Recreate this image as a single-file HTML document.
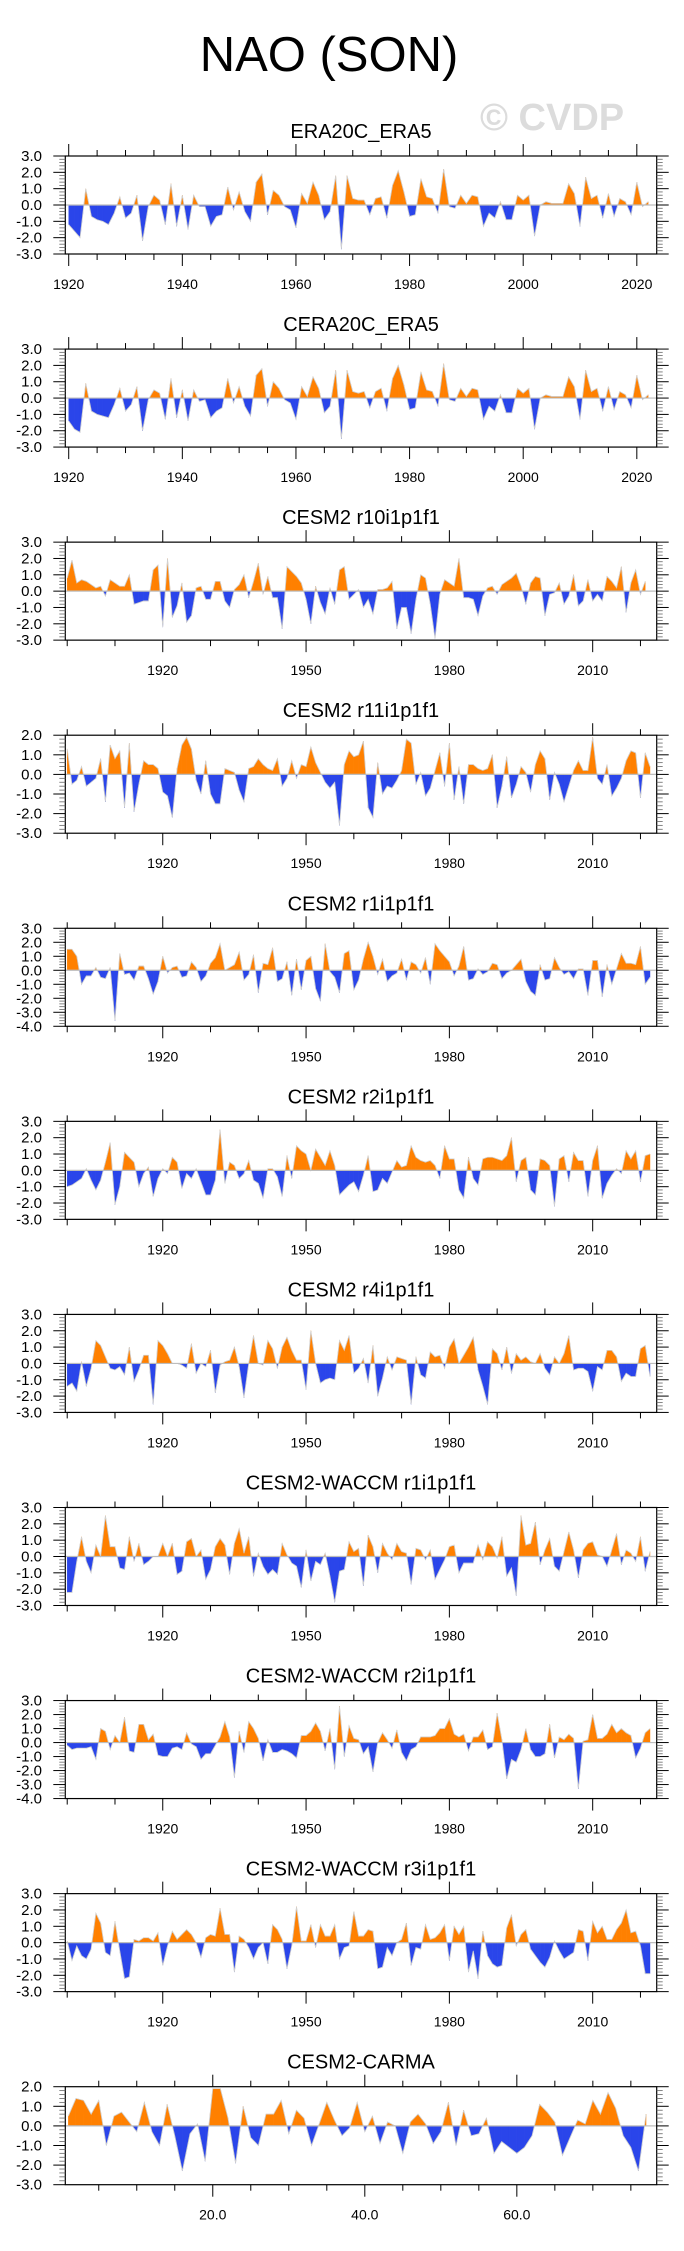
<!DOCTYPE html>
<html><head><meta charset="utf-8"><style>
html,body{margin:0;padding:0;background:#fff;}
svg{display:block;font-family:"Liberation Sans",sans-serif;}
</style></head><body>
<svg id="fig" width="684" height="2251" viewBox="0 0 684 2251" xmlns="http://www.w3.org/2000/svg">
<text x="329" y="71" font-size="49" text-anchor="middle" fill="#000">NAO (SON)</text>
<text x="480" y="130" font-size="38" font-weight="bold" fill="#dcdcdc">© CVDP</text>
</svg>
<script>
const titles = ["ERA20C_ERA5","CERA20C_ERA5","CESM2 r10i1p1f1","CESM2 r11i1p1f1","CESM2 r1i1p1f1","CESM2 r2i1p1f1","CESM2 r4i1p1f1","CESM2-WACCM r1i1p1f1","CESM2-WACCM r2i1p1f1","CESM2-WACCM r3i1p1f1","CESM2-CARMA"];
const yMins = [-3,-3,-3,-3,-4,-3,-3,-3,-4,-3,-3];
const yMaxs = [3,3,3,2,3,3,3,3,3,3,2];
const era1 = [-1.2,-1.6,-2.0,1.0,-0.7,-0.9,-1.0,-1.2,-0.5,0.5,-0.8,-0.5,0.6,-2.2,-0.1,0.6,0.3,-1.2,1.3,-1.3,0.6,-1.5,0.6,-0.1,-0.1,-1.3,-0.7,-0.6,1.1,-0.3,0.8,-0.4,-1.0,1.4,1.9,-0.6,0.9,0.6,-0.1,-0.3,-1.4,0.7,0.1,1.4,0.6,-0.9,-0.4,1.8,-2.7,1.8,0.4,0.3,0.3,-0.6,0.4,0.5,-0.8,1.2,2.1,0.8,-0.7,-0.6,1.6,0.5,0.4,-0.5,2.2,-0.1,-0.2,0.6,0.1,0.6,0.5,-1.3,-0.5,-0.8,0.2,-0.9,-0.9,0.6,0.3,0.6,-1.9,0,0.2,0.1,0.1,0.1,1.3,0.7,-1.3,1.7,0.4,0.6,-0.8,0.7,-0.7,0.4,0.2,-0.6,1.4,-0.1,0.2];
const era2 = [-1.4,-1.9,-2.1,0.9,-0.8,-1.0,-1.1,-1.2,-0.4,0.6,-0.8,-0.4,0.7,-2.0,-0.1,0.5,0.3,-1.3,1.2,-1.2,0.5,-1.4,0.5,-0.2,-0.1,-1.2,-0.8,-0.6,1.2,-0.3,0.7,-0.5,-1.1,1.4,1.8,-0.5,1.0,0.6,-0.1,-0.3,-1.3,0.7,0.1,1.3,0.6,-0.9,-0.5,1.7,-2.5,1.7,0.4,0.3,0.4,-0.6,0.4,0.6,-0.8,1.2,2.0,0.8,-0.7,-0.6,1.6,0.5,0.4,-0.5,2.1,-0.1,-0.2,0.6,0.1,0.6,0.5,-1.3,-0.5,-0.8,0.2,-0.9,-0.9,0.6,0.3,0.6,-1.9,0,0.2,0.1,0.1,0.1,1.3,0.7,-1.3,1.7,0.4,0.6,-0.8,0.7,-0.7,0.4,0.2,-0.6,1.4,-0.1,0.2];
const r10 = [0.8,1.9,0.5,0.7,0.6,0.4,0.2,0.3,-0.3,0.7,0.5,0.3,0.3,1.0,-0.8,-0.7,-0.6,-0.6,1.3,1.6,-2.2,2.0,-1.6,-0.9,0.5,-1.9,-1.5,0.2,0.3,-0.5,-0.5,0.6,0.6,-0.6,-1.0,0.1,0.4,1.0,-0.4,0.6,1.7,-0.2,0.9,-0.4,-0.4,-2.3,1.5,1.2,0.9,0.5,-0.5,-2.0,0.3,-0.7,-1.4,0.2,-0.8,1.3,1.5,-0.5,-0.2,0.1,-1.0,-0.5,-1.4,0.1,0.1,0.2,0.6,-2.3,-1.0,-1.0,-2.6,-0.5,1.0,0.8,-0.8,-2.9,-0.2,0.7,0.5,0.3,2.0,-0.4,-0.4,-0.5,-1.5,-0.3,0.2,0.3,-0.2,0.4,0.6,0.8,1.1,0.3,-0.8,0.5,0.9,0.8,-1.5,-0.2,-0.1,0.5,-0.8,-0.3,1.0,-0.9,-0.6,0.7,-0.6,-0.2,-0.6,0.9,0.6,0.2,1.5,-1.3,0.5,1.3,-0.2,0.6];
const r11 = [1.3,-0.5,-0.3,0.4,-0.6,-0.4,-0.2,0.8,-1.4,1.5,0.8,1.2,-1.7,1.6,-1.9,-0.5,0.7,0.5,0.5,0.3,-0.9,-1.1,-2.2,0.3,1.5,1.9,1.3,-0.3,-1.0,0.7,-1.0,-1.5,-1.5,0.3,0.2,0.1,-0.8,-1.4,0.3,0.4,0.8,0.5,0.3,0.2,0.8,-0.6,-0.2,0.7,-0.2,0.5,0.4,1.4,0.6,0.1,-0.4,-0.7,-0.4,-2.6,0.5,1.2,0.9,1.0,1.7,-1.7,-2.2,0.6,-1.0,-0.6,-0.7,-0.3,0.2,1.8,1.6,-0.5,0.1,-1.1,-0.7,0.2,1.1,-0.6,1.6,-1.3,0.4,-1.5,0.5,0.5,0.3,0.2,0.3,1.0,-1.7,-0.6,0.9,-1.2,-0.5,0.4,0.1,-0.9,0.5,1.2,0.8,-1.3,0.1,-0.5,-1.4,-0.6,0.2,0.7,0.2,0.2,1.9,-0.2,-0.5,0.5,-1.1,-0.7,-0.2,0.7,1.2,1.1,-1.2,1.1,0.4];
const r1 = [1.5,1.5,1.0,-1.0,-0.4,-0.4,0.2,-0.5,-0.6,0.2,-3.6,1.2,-0.3,-0.2,-0.7,0.3,0.3,-0.6,-1.7,-0.8,1.0,-0.2,0.2,0.3,-0.5,-0.4,0.6,0.2,-0.8,-0.4,0.5,0.9,1.9,0,0.2,0.4,1.3,-0.7,-0.3,1.1,-1.6,0.5,0.4,1.6,-0.8,-0.6,0.6,-1.8,0.8,-1.4,0.7,1.0,-1.3,-2.2,1.9,-0.1,-0.5,-1.6,1.2,1.4,-1.4,-0.7,0.8,2.0,1.0,-0.3,0.8,-0.8,-0.4,-0.2,0.8,-0.7,0.6,0.4,-0.2,0.9,-1.0,1.9,1.4,1.0,0.6,-0.4,0.3,1.7,-0.7,-0.6,0.1,-0.3,-0.1,0.5,0.4,-0.6,-0.2,0,0.4,0.8,-0.8,-1.5,-1.8,0.4,-0.7,-0.6,0.9,0.2,-0.3,-0.1,-0.6,0.1,0.1,-1.8,0.7,0.7,-1.9,0.4,-1.0,0.1,1.2,0.5,0.5,0.4,1.7,-1.0,-0.5];
const r2 = [-1.0,-0.9,-0.7,-0.5,0.1,-0.6,-1.2,-0.6,0.5,1.7,-2.1,-1.0,1.1,0.8,0.5,-1.0,-0.2,0.2,-1.6,-0.5,0.1,-0.2,0.8,0.5,-1.1,-0.2,-0.5,0.1,-0.7,-1.5,-1.5,-0.6,2.5,-0.8,0.5,0.3,-0.5,-0.2,0.6,-0.6,-0.8,-1.7,0.1,0.1,-0.4,-1.6,0.9,-0.5,1.5,1.2,1.0,0,1.3,0.8,0.3,1.2,0.3,-1.5,-1.2,-0.9,-0.7,-1.3,-0.3,0.9,-1.3,-1.2,-0.5,-0.8,-0.1,0.6,0.2,0.3,1.5,0.8,0.6,0.5,0.6,0.3,-0.5,1.5,0.7,0.7,-1.2,-1.7,0.8,-0.5,-0.9,0.7,0.8,0.8,0.7,0.6,0.9,2.0,-0.7,0.6,0.8,-1.2,-1.5,0.7,0.6,0.3,-2.2,0.7,0.9,-0.7,1.1,0.6,0.6,-1.6,0.6,1.5,-1.7,-0.8,-0.3,0.1,-0.2,1.2,0.7,1.2,-0.7,0.9,1.0];
const r4 = [-1.4,-1.2,-1.7,0.1,-1.4,-0.3,1.4,1.1,0.4,-0.3,-0.4,-0.2,-0.7,1.0,-1.1,-0.4,0.5,0.5,-2.5,1.4,1.1,0.6,0,0,-0.1,-0.3,1.2,-0.6,0,-0.2,0.8,-1.8,-0.1,0.1,0.2,1.0,-0.2,-2.1,0,1.7,0,-0.1,1.4,0.9,-0.3,1.0,1.6,0.8,0.2,0.2,-1.6,2.0,0,-1.2,-1.0,-0.9,-1.0,1.4,0.8,1.7,-0.6,-0.3,0.3,-1.2,1.1,-2.0,-0.9,0.4,-0.4,0.4,0.3,0.2,-2.5,0.4,-0.7,-0.9,0.7,0.4,0.5,-0.3,1.0,1.5,0,0.5,1.0,1.6,-0.4,-1.4,-2.5,0.9,0.6,-0.4,1.0,-0.6,0.6,0.2,0.4,0.1,0,0.6,-0.3,-0.7,0.4,0,0.6,1.7,-0.4,-0.3,-0.3,-0.5,-1.7,-0.2,-0.4,0.8,0.8,0.4,-1.1,-0.6,-0.8,-0.8,0.9,1.1,-0.8];
const w1 = [-2.2,-2.2,-0.3,1.2,-0.3,-1.0,0.7,0,2.5,0.6,0.6,-0.7,-0.8,1.2,-0.3,0.8,-0.5,-0.3,0,0,0.8,0,0.8,-1.1,-0.9,0.9,1.1,0,0.4,-1.4,-0.8,0.6,1.1,0.7,-1.1,0.8,1.7,0.2,1.2,-1.2,0.2,-0.6,-1.1,-0.8,-1.1,0.8,0.1,-0.4,-0.6,-1.9,0.4,-1.5,-0.3,-0.5,0.2,-1.2,-2.8,-0.9,-0.8,0.9,0.3,0.5,-1.8,1.3,0.6,-1.0,0.8,0.2,-0.2,0.8,0.3,0.2,-1.7,0.5,0.4,-0.2,0.4,-1.4,-0.8,-0.2,0.6,0.7,-1.0,-0.4,-0.4,-0.4,0.7,-0.2,0.9,0.6,-0.1,1.2,-1.2,-0.7,-2.4,2.5,0.7,0.8,2.1,-0.5,0.4,1.1,-0.6,-0.9,0.3,1.5,0.4,-1.3,0.4,0.8,0.9,0.1,0,-0.6,0.4,1.4,-0.5,0.4,0.2,-0.3,1.2,-0.9,0.3];
const w2 = [-0.2,-0.5,-0.4,-0.4,-0.4,-0.3,-1.2,1.0,0.8,-0.5,0.5,0,1.8,-0.6,-0.7,1.3,1.3,0.2,0.6,-0.9,-1.0,-1.0,-0.4,-0.3,-0.5,0.7,-0.1,-0.3,-1.2,-0.8,-0.8,-0.2,0.4,1.5,0.4,-2.5,0.8,-0.7,1.5,1.0,0.3,-1.3,0.2,-0.7,-0.7,-0.5,-0.6,-0.8,-1.1,0.5,0.5,0.8,1.4,0.8,-0.6,1.0,-1.9,2.6,-1.0,1.2,0.3,0.2,-0.8,-0.3,-2.1,0,0.7,0.2,-0.4,0.9,-0.7,-1.3,-0.5,-0.3,0.4,0.4,0.4,0.5,1.0,1.0,1.7,0.6,0.4,0.6,-0.6,0.4,0.4,0.9,-0.5,-0.3,2.1,0.2,-2.6,-1.2,-1.4,-0.5,1.0,-0.5,-1.0,-1.0,-0.8,1.3,-1.1,0.4,0.2,0.6,0.3,-3.3,0.1,0.2,2.0,0.3,0.3,0.6,1.3,0.7,1.0,0.7,0.5,-1.1,-0.4,0.7,1.0];
const w3 = [0.1,-1.1,-0.2,-0.8,-1.0,-0.4,1.8,1.2,-0.6,-0.8,1.3,-0.5,-2.2,-2.1,0.2,0.1,0.3,0.3,0.1,0.6,-1.4,-0.2,0.7,0.2,0.5,0.8,0.5,0,-0.9,0.3,0.5,0.4,2.1,0.5,0.5,-1.8,0.4,0.2,-0.3,-1.0,-0.3,0,-1.3,1.1,0.8,0.2,-1.6,-0.2,2.2,0.1,0.1,1.1,-0.3,1.1,0.4,0.4,1.1,-1.0,-0.3,-0.2,1.9,0.4,0.4,0.8,0.7,-1.6,-1.5,-0.3,-0.8,0,0.2,1.2,-1.4,-0.3,-0.4,1.1,0.2,0.3,0.6,1.1,-1.1,1.0,0.5,1.0,-1.8,-0.5,-2.2,0.7,-0.8,-1.3,-1.5,-1.4,0.9,1.7,-0.2,0.5,0.8,-0.4,-0.8,-1.2,-1.5,-0.9,0.1,-0.5,-1.0,-0.8,-0.6,0.8,0.7,-1.1,1.3,0.6,1.0,0.2,0.2,0.8,1.2,2.0,0.6,0.7,-0.2,-1.9,-1.9];
const carma = [0.5,1.4,1.3,0.6,1.3,-1.0,0.5,0.7,0.2,-0.3,1.2,-0.3,-1.0,1.1,-0.5,-2.3,-0.4,0.1,-1.8,1.9,1.9,0.4,-1.9,1.0,-0.6,-1.0,0.6,0.6,1.3,-0.4,0.8,0.4,-1.0,0.1,1.2,0.3,-0.5,-0.1,1.2,-0.3,0.5,-0.9,0.2,0,-1.4,0.2,0.6,0.1,-0.9,-0.3,1.2,-1.0,0.8,-0.5,-0.4,0.4,-1.4,-0.8,-1.1,-1.4,-1.1,-0.5,1.1,0.7,0.2,-1.5,-0.6,0.3,0.1,1.3,0.6,1.7,0.9,-0.5,-1.1,-2.3,0.6];
const xStarts = [1920,1920,1900,1900,1900,1900,1900,1900,1900,1900,1];
const xTickLabels = [["1920","1940","1960","1980","2000","2020"],["1920","1940","1960","1980","2000","2020"],["1920","1950","1980","2010"],["1920","1950","1980","2010"],["1920","1950","1980","2010"],["1920","1950","1980","2010"],["1920","1950","1980","2010"],["1920","1950","1980","2010"],["1920","1950","1980","2010"],["1920","1950","1980","2010"],["20.0","40.0","60.0"]];
const series = [era1,era2,r10,r11,r1,r2,r4,w1,w2,w3,carma];

const NS="http://www.w3.org/2000/svg";
const svg=document.getElementById('fig');
function mk(tag,attrs,parent){const e=document.createElementNS(NS,tag);for(const k in attrs)e.setAttribute(k,attrs[k]);(parent||svg).appendChild(e);return e;}
const L=65.3,R=656.7,H=98;
for(let p=0;p<11;p++){
  const top=156+p*193.07, bot=top+H;
  const g=mk('g',{});
  
  
  let dom, minStep;
  if(p<2){dom=[1919.4,2023.5];minStep=5;}
  else if(p<10){dom=[1899.6,2023.4];minStep=10;}
  else {dom=[0.6,78.4];minStep=5;}
  const xs=v=>L+(v-dom[0])/(dom[1]-dom[0])*(R-L);
  const y0=yMins[p],y1=yMaxs[p];
  const ys=v=>top+(y1-v)/(y1-y0)*H;
  const t=mk('text',{x:(L+R)/2,y:top-18,'font-size':20,'text-anchor':'middle',fill:'#000'},g);
  t.textContent=titles[p];
  
  
  const d=series[p], xs0=xStarts[p];
  const zy=ys(0);
  let segs=[];
  for(let i=0;i<d.length-1;i++){
    const xa=xs(xs0+i),xb=xs(xs0+i+1),va=d[i],vb=d[i+1];
    if((va>=0&&vb>=0)||(va<=0&&vb<=0)){segs.push([xa,va,xb,vb]);}
    else{const f=va/(va-vb),xm=xa+f*(xb-xa);segs.push([xa,va,xm,0]);segs.push([xm,0,xb,vb]);}
  }
  for(const s of segs){
    const pos=(s[1]+s[3])>0;
    const poly=mk('polygon',{points:`${s[0]},${zy} ${s[0]},${ys(s[1])} ${s[2]},${ys(s[3])} ${s[2]},${zy}`,fill:pos?'#ff8000':'#2a45ea',stroke:pos?'#ff8000':'#2a45ea','stroke-width':0.4},g);
    
    
  }
  let pts=d.map((v,i)=>xs(xs0+i)+','+ys(v)).join(' ');
  const ln=mk('polyline',{points:pts,fill:'none',stroke:'#d0d0d0','stroke-width':0.8},g);
  
  
  const zl=mk('line',{x1:L,x2:R,y1:zy,y2:zy,stroke:'#bdbdbd','stroke-width':1.2},g);
  
  
  const box=mk('rect',{x:L,y:top,width:R-L,height:H,fill:'none',stroke:'#000','stroke-width':1.2},g);
  
  
  const majVals=p<2?[1920,1940,1960,1980,2000,2020]:(p<10?[1920,1950,1980,2010]:[20,40,60]);
  const mStart=p<2?1920:(p<10?1900:5);
  for(let v=mStart;v<=dom[1];v+=minStep){
    const x=xs(v),isMaj=majVals.includes(v),len=isMaj?12:6;
    mk('line',{x1:x,x2:x,y1:top,y2:top-len,stroke:'#000','stroke-width':1},g);
    mk('line',{x1:x,x2:x,y1:bot,y2:bot+len,stroke:'#000','stroke-width':1},g);
  }
  majVals.forEach((v,i)=>{
    const tl=mk('text',{x:xs(v),y:bot+35,'font-size':14,'text-anchor':'middle',fill:'#000'},g);
    tl.textContent=xTickLabels[p][i];
    
    
  });
  for(let k=Math.round(y0*5);k<=Math.round(y1*5);k++){
    const v=k/5,y=ys(v),isMaj=(k%5===0),len=isMaj?12:6;
    mk('line',{x1:L,x2:L-len,y1:y,y2:y,stroke:isMaj?'#000':'#666','stroke-width':isMaj?1:0.8},g);
    mk('line',{x1:R,x2:R+len,y1:y,y2:y,stroke:isMaj?'#000':'#666','stroke-width':isMaj?1:0.8},g);
    if(isMaj){
      const yl=mk('text',{x:42,y:y+5,'font-size':15,'text-anchor':'end',fill:'#000'},g);
      yl.textContent=v.toFixed(1);
      
      
    }
  }
}
</script>
</body></html>
